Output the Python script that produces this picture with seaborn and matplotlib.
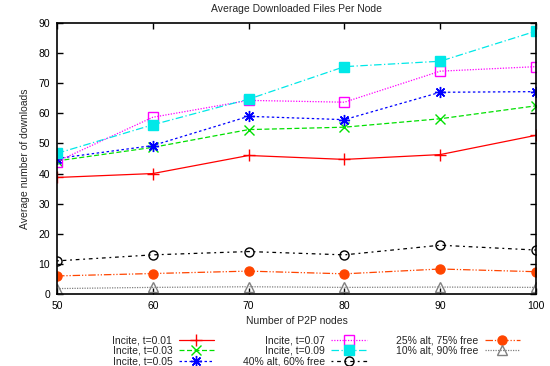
import numpy as np
import pandas as pd
import seaborn as sns
import matplotlib
matplotlib.use('Agg')
import matplotlib.pyplot as plt

sns.set_style('ticks')
plt.rcParams['font.family'] = ['Liberation Sans', 'DejaVu Sans']
plt.rcParams['font.size'] = 7.5

#%% data
nodes = [50, 60, 70, 80, 90, 100]
incite_001 = [38.7, 40.0, 46.0, 44.7, 46.3, 52.7]
incite_003 = [44.2, 48.7, 54.6, 55.4, 58.2, 62.5]
incite_005 = [45.0, 49.3, 59.0, 57.9, 67.0, 67.2]
incite_007 = [44.0, 58.7, 64.3, 63.7, 74.0, 75.5]
incite_009 = [46.7, 56.2, 64.7, 75.5, 77.3, 87.3]
alt40_free60 = [11.0, 13.0, 14.1, 13.0, 16.2, 14.6]
alt25_free75 = [6.0, 6.8, 7.6, 6.7, 8.3, 7.4]
alt10_free90 = [1.8, 2.2, 2.4, 2.2, 2.3, 2.2]

labels = ['Incite, t=0.01', 'Incite, t=0.03', 'Incite, t=0.05', 'Incite, t=0.07',
          'Incite, t=0.09', '40% alt, 60% free', '25% alt, 75% free', '10% alt, 90% free']
series = [incite_001, incite_003, incite_005, incite_007, incite_009,
          alt40_free60, alt25_free75, alt10_free90]

df = pd.concat([pd.DataFrame({'nodes': nodes, 'downloads': s, 'label': l})
                for s, l in zip(series, labels)], ignore_index=True)

# gnuplot-ish styles per series
styles = {
    'Incite, t=0.01': dict(color='#ff0000', ls='-', marker='+', ms=8, mfc='#ff0000'),
    'Incite, t=0.03': dict(color='#00e000', ls=(0, (4, 2)), marker='x', ms=7, mfc='#00e000'),
    'Incite, t=0.05': dict(color='#0000ff', ls=(0, (2, 2)), marker=(8, 2, 0), ms=8, mfc='#0000ff'),
    'Incite, t=0.07': dict(color='#ff00ff', ls=(0, (1, 1.2)), marker='s', ms=6.5, mfc='none'),
    'Incite, t=0.09': dict(color='#00e8e8', ls=(0, (6, 2, 1, 2)), marker='s', ms=6.5, mfc='#00e8e8'),
    '40% alt, 60% free': dict(color='black', ls=(0, (1.5, 3, 3, 3)), marker='o', ms=6.5, mfc='none'),
    '25% alt, 75% free': dict(color='#ff4500', ls=(0, (6, 1.5, 1, 1.5, 1, 1.5)), marker='o', ms=6.5, mfc='#ff4500'),
    '10% alt, 90% free': dict(color='#808080', ls=(0, (1, 1)), marker='^', ms=6.5, mfc='none'),
}

#%% plot
fig = plt.figure(figsize=(5.5, 3.66), dpi=100)
ax = fig.add_axes([57 / 550, 1 - 294 / 366, (536 - 57) / 550, (294 - 23) / 366])

for l in labels:
    st = styles[l]
    sns.lineplot(data=df[df['label'] == l], x='nodes', y='downloads', ax=ax,
                 color=st['color'], linestyle=st['ls'], marker=st['marker'],
                 markersize=st['ms'], markerfacecolor=st['mfc'],
                 markeredgecolor=st['color'], markeredgewidth=1.0,
                 linewidth=0.9, label=l)

ax.set(xlim=[50, 100], ylim=[0, 90], xticks=nodes, yticks=np.arange(0, 91, 10),
       xlabel='Number of P2P nodes', ylabel='Average number of downloads')
ax.set_title('Average Downloaded Files Per Node', fontsize=7.5, pad=8)
ax.tick_params(direction='in', length=4, width=1, top=True, right=True, pad=5,
               labelsize=7.5, colors='black')
for sp in ax.spines.values():
    sp.set_linewidth(1.2)
    sp.set_color('black')
ax.xaxis.labelpad = 4
ax.yaxis.labelpad = 6

ax.legend(loc='upper center', bbox_to_anchor=(0.575, 1 - 330 / 366),
          bbox_transform=fig.transFigure, ncol=3, frameon=False,
          markerfirst=False, handlelength=3.4, handletextpad=0.6,
          columnspacing=2.8, labelspacing=0.05, borderpad=0, fontsize=7.5)

fig.savefig('out.png', dpi=100, facecolor='white')
